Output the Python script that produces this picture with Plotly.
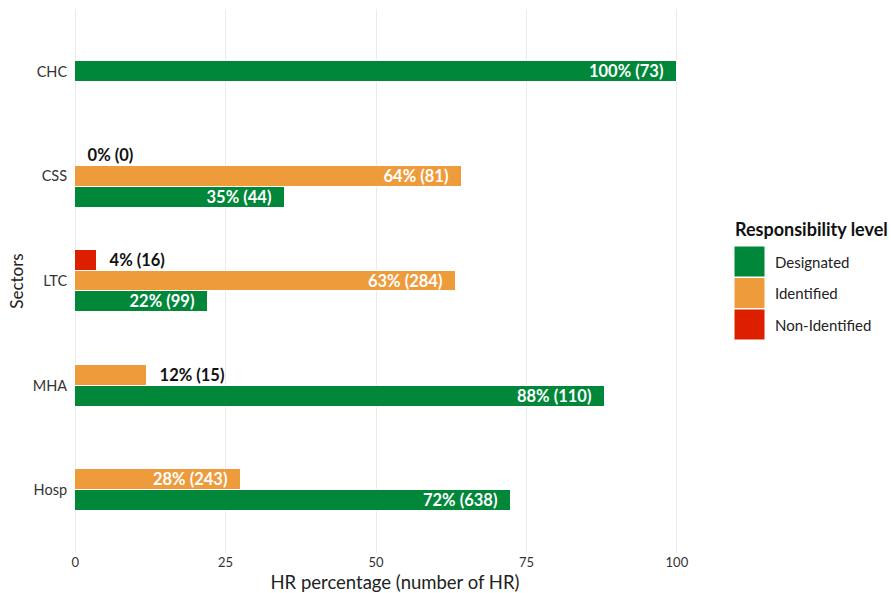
import plotly.graph_objects as go

sectors = ["CHC", "CSS", "LTC", "MHA", "Hosp"]
series = ["Non-Identified", "Identified", "Designated"]  # top-to-bottom order inside each group
legend_order = ["Designated", "Identified", "Non-Identified"]
colors = {"Designated": "#00873A", "Identified": "#EE9B3C", "Non-Identified": "#DD1F00"}

# bar lengths (percent of HR)
designated_pct = [100.0, 34.9, 22.1, 88.0, 72.4]
identified_pct = [None, 64.3, 63.3, 12.0, 27.6]
nonidentified_pct = [None, 0.0, 3.65, None, None]

# label values: rounded percent and number of HR
designated_lbl = [100, 35, 22, 88, 72]
designated_n = [73, 44, 99, 110, 638]
identified_lbl = [None, 64, 63, 12, 28]
identified_n = [None, 81, 284, 15, 243]
nonidentified_lbl = [None, 0, 4, None, None]
nonidentified_n = [None, 0, 16, None, None]

data = {
    "Designated": (designated_pct, designated_lbl, designated_n),
    "Identified": (identified_pct, identified_lbl, identified_n),
    "Non-Identified": (nonidentified_pct, nonidentified_lbl, nonidentified_n),
}

FONT = "Lato"
SLOT = 0.2
NBSP = "\u00a0"
THIN = "\u2009"

fig = go.Figure()

for s in series:
    vals, lbls, ns = data[s]
    ys, xs, texts, pos, offs = [], [], [], [], []
    for i, sec in enumerate(sectors):
        if vals[i] is None:
            continue
        present = [t for t in series if data[t][0][i] is not None]
        k = present.index(s)
        center = (k - (len(present) - 1) / 2) * SLOT
        ys.append(sec)
        xs.append(vals[i])
        offs.append(center - SLOT / 2)
        lab = f"{lbls[i]}% ({ns[i]})"
        if vals[i] < 15:
            texts.append(NBSP * 2 + THIN + lab)
            pos.append("outside")
        else:
            texts.append(lab + NBSP * 2 + THIN)
            pos.append("inside")
    fig.add_trace(go.Bar(
        y=ys, x=xs, orientation="h", name=s,
        width=[SLOT] * len(xs), offset=offs,
        marker=dict(color=colors[s], line=dict(color="white", width=1)),
        text=texts, textposition=pos, insidetextanchor="end",
        textfont=dict(family=FONT, size=16.5, color="white", weight="bold"),
        outsidetextfont=dict(family=FONT, size=16.5, color="#111111", weight="bold"),
        constraintext="none", cliponaxis=False,
        showlegend=False, hoverinfo="skip",
    ))

L, R, T, B = 74, 175, 9, 40
W, H = 891, 593
pw, ph = W - L - R, H - T - B

def px_x(px):
    return (px - L) / pw

def px_y(py):
    return (H - B - py) / ph

shapes, annotations = [], []
annotations.append(dict(
    x=px_x(733), y=px_y(229), xref="paper", yref="paper", xanchor="left", yanchor="middle",
    text="<b>Responsibility level</b>", showarrow=False,
    font=dict(family=FONT, size=18, color="#111111"),
))
sw_top, sw_h = 246, 31.5
for j, s in enumerate(legend_order):
    y0 = sw_top + j * sw_h
    shapes.append(dict(
        type="rect", xref="paper", yref="paper",
        x0=px_x(734.5), x1=px_x(764.5), y0=px_y(y0 + sw_h - 1), y1=px_y(y0 + 0.5),
        fillcolor=colors[s], line=dict(width=0),
    ))
    annotations.append(dict(
        x=px_x(773), y=px_y(y0 + sw_h / 2), xref="paper", yref="paper",
        xanchor="left", yanchor="middle", text=s, showarrow=False,
        font=dict(family=FONT, size=15, color="#222222"),
    ))

fig.update_layout(
    width=W, height=H,
    margin=dict(l=L, r=R, t=T, b=B, autoexpand=False),
    plot_bgcolor="white", paper_bgcolor="white",
    barmode="overlay", bargap=0,
    font=dict(family=FONT, color="#333333"),
    shapes=shapes, annotations=annotations,
    xaxis=dict(
        range=[-0.2, 106.5], tickvals=[0, 25, 50, 75, 100],
        showgrid=True, gridcolor="#EBEBEB", gridwidth=1, zeroline=False, showline=False,
        ticks="",
        tickfont=dict(family=FONT, size=13, color="#333333"),
        title=dict(text="HR percentage (number of HR)", standoff=12,
                   font=dict(family=FONT, size=18.5, color="#222222")),
    ),
    yaxis=dict(
        type="category", categoryorder="array", categoryarray=sectors,
        range=[4.6, -0.6], showgrid=False, zeroline=False, showline=False,
        ticks="outside", ticklen=3, tickcolor="rgba(0,0,0,0)",
        tickfont=dict(family=FONT, size=14.5, color="#333333"),
        title=dict(text="Sectors", standoff=4,
                   font=dict(family=FONT, size=17, color="#222222")),
    ),
)

fig.write_html(
    "out.html",
    config={"displayModeBar": False},
    post_script="document.body.style.margin='0px';document.body.style.overflow='hidden';",
)
